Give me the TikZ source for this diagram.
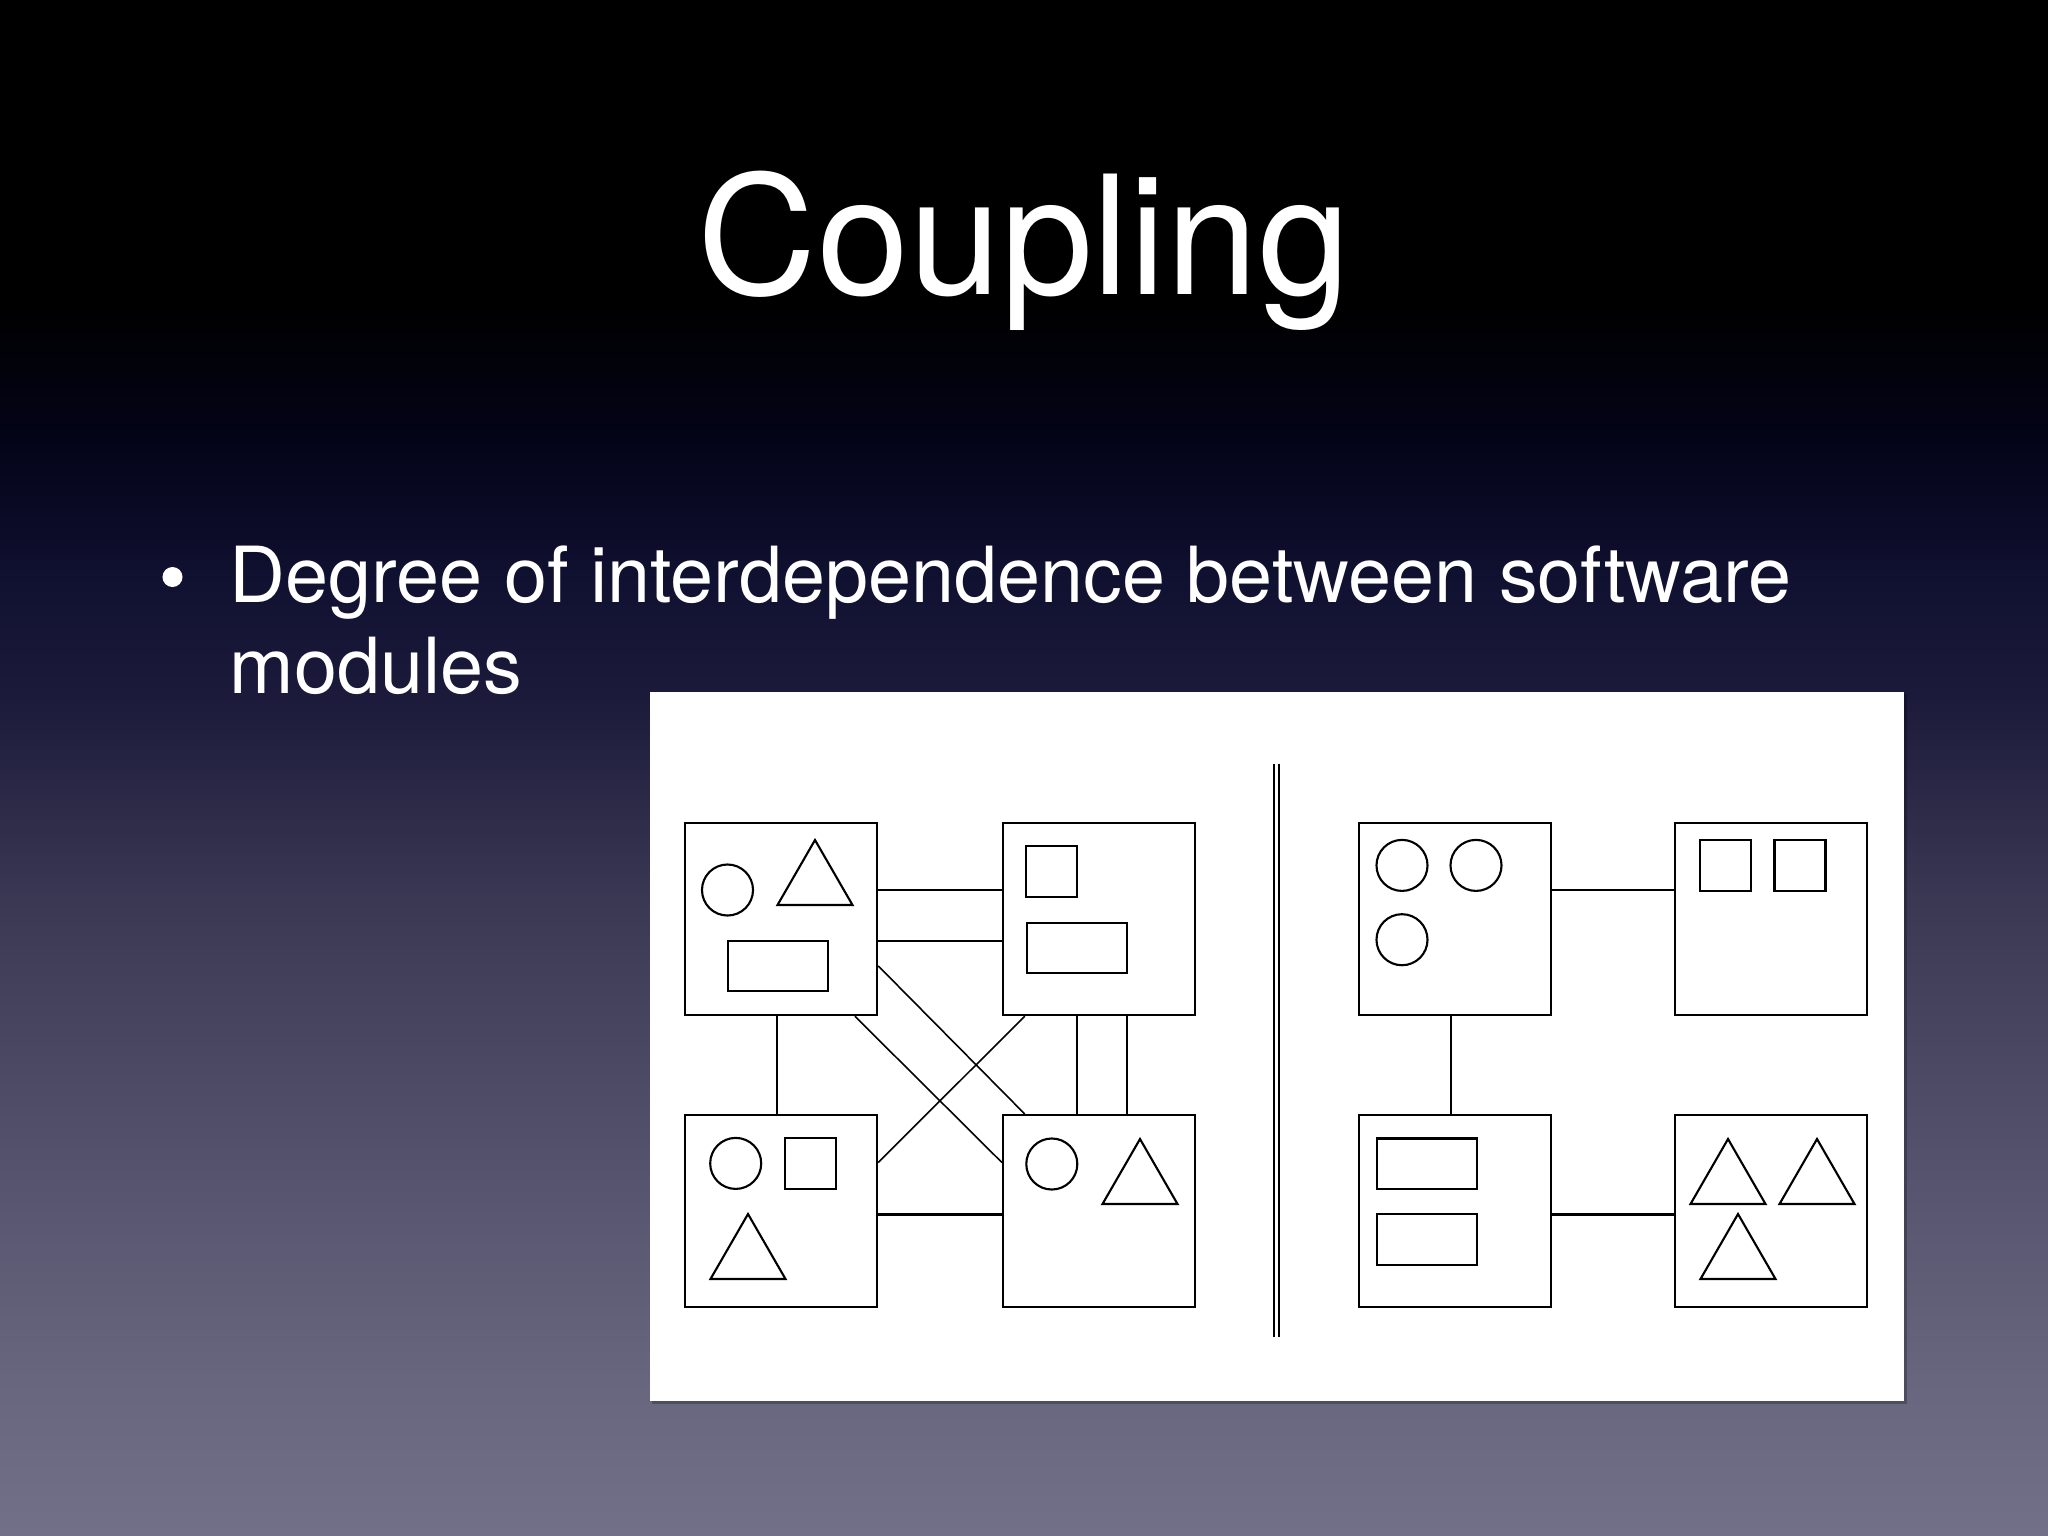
\documentclass[tikz,border=0pt]{standalone}
\usepackage{fontspec}
\setmainfont{TeX Gyre Heros}
\usepackage{xcolor}
\usetikzlibrary{positioning,calc}

\definecolor{bgA}{HTML}{727089}
\definecolor{bgB}{HTML}{68667E}
\definecolor{bgC}{HTML}{4F4C68}
\definecolor{bgD}{HTML}{3A3853}
\definecolor{bgE}{HTML}{1B1A3A}
\definecolor{bgF}{HTML}{101030}
\definecolor{bgG}{HTML}{04041A}
\pgfdeclareverticalshading{slidebg}{100bp}{color(0bp)=(bgA); color(25bp)=(bgA); color(30.1bp)=(bgB); color(39.2bp)=(bgC); color(45.7bp)=(bgD); color(52.4bp)=(bgE); color(56.3bp)=(bgF); color(60.4bp)=(bgG); color(65.2bp)=(black); color(100bp)=(black)}

\begin{document}
\begin{tikzpicture}[x=0.01cm, y=-0.01cm]
    % Styles
    \tikzstyle{module} = [rectangle, draw, line width=0.65pt, minimum size=1.92cm, inner sep=0pt]
    \tikzstyle{ring} = [circle, draw, line width=0.6pt, minimum size=0.51cm, inner sep=0pt]
    \tikzstyle{sq} = [rectangle, draw, line width=0.6pt, minimum size=0.51cm, inner sep=0pt]
    \tikzstyle{bar} = [rectangle, draw, line width=0.6pt, minimum width=1.0cm, minimum height=0.505cm, inner sep=0pt]
    \tikzstyle{tri} = [line width=0.6pt]
    \tikzstyle{link} = [line width=0.6pt]
    \tikzstyle{cross} = [line width=0.45pt]
    \tikzstyle{slidetext} = [text=white, inner sep=0pt]

    % Background
    \useasboundingbox (0,0) rectangle (2048,1536);
    \shade[shading=slidebg] (0,0) rectangle (2048,1536);

    % Title and bullet
    \node [slidetext, anchor=base, font=\fontsize{47}{56}\selectfont] (title) at (1024,294) {Coupling};
    \node [slidetext, anchor=base west, font=\fontsize{22}{26}\selectfont] (line1) at (229,602) {Degree of interdependence between software};
    \node [slidetext, anchor=base west, font=\fontsize{22}{26}\selectfont] (line2) at ($(line1.base west)+(0,91)$) {modules};
    \node [circle, fill=white, minimum size=0.2cm, inner sep=0pt] (dot) at (172.5,577) {};

    % Panel
    \fill[black, opacity=0.25] (652,694) rectangle (1907,1404);
    \fill[white] (650,692) rectangle (1904,1401);
    \draw[line width=0.6pt] (1274,763.5) -- (1274,1336.5);
    \draw[line width=0.6pt] (1279,763.5) -- (1279,1336.5);

    % Nodes - tightly coupled side
    \node [module] (a) at (781,919) {};
    \node [module, right=1.237cm of a] (b) {};
    \node [module, below=0.977cm of a] (c) {};
    \node [module, right=1.237cm of c] (d) {};

    \node [ring] (a1) at (727.5,890) {};
    \draw[tri] (815,840) -- (852.5,905) -- (777.5,905) -- cycle;
    \node [bar] (a2) at (778.2,966) {};
    \node [sq] (b1) at (1051.8,871.9) {};
    \node [bar] (b2) at (1076.7,948) {};
    \node [ring] (c1) at (735.7,1163.4) {};
    \node [sq] (c2) at (810.2,1163.5) {};
    \draw[tri] (748,1214) -- (785.5,1279) -- (710.5,1279) -- cycle;
    \node [ring] (d1) at (1051.8,1164) {};
    \draw[tri] (1140,1139) -- (1177.5,1204) -- (1102.5,1204) -- cycle;

    \draw[link] ($(a.north east)!0.352!(a.south east)$) -- ($(b.north west)!0.352!(b.south west)$);
    \draw[link] ($(a.north east)!0.615!(a.south east)$) -- ($(b.north west)!0.615!(b.south west)$);
    \draw[link] ($(a.south west)!0.479!(a.south east)$) -- ($(c.north west)!0.479!(c.north east)$);
    \draw[link] ($(b.south west)!0.387!(b.south east)$) -- ($(d.north west)!0.387!(d.north east)$);
    \draw[link] ($(b.south west)!0.644!(b.south east)$) -- ($(d.north west)!0.644!(d.north east)$);
    \draw[link] ($(c.north east)!0.517!(c.south east)$) -- ($(d.north west)!0.517!(d.south west)$);
    \draw[cross] ($(a.north east)!0.741!(a.south east)$) -- ($(d.north west)!0.117!(d.north east)$);
    \draw[cross] ($(a.south west)!0.88!(a.south east)$) -- ($(d.north west)!0.25!(d.south west)$);
    \draw[cross] ($(b.south west)!0.117!(b.south east)$) -- ($(c.north east)!0.25!(c.south east)$);

    % Nodes - loosely coupled side
    \node [module] (e) at (1455,919) {};
    \node [module, right=1.217cm of e] (f) {};
    \node [module, below=0.977cm of e] (g) {};
    \node [module, right=1.217cm of g] (h) {};

    \node [ring] (e1) at (1402,865.4) {};
    \node [ring] (e2) at (1476,865.4) {};
    \node [ring] (e3) at (1402,939.7) {};
    \node [sq] (f1) at (1725.7,865.4) {};
    \node [sq] (f2) at (1800,865.4) {};
    \node [bar] (g1) at (1427.1,1163.8) {};
    \node [bar] (g2) at (1427.1,1239.4) {};
    \draw[tri] (1728,1139) -- (1765.5,1204) -- (1690.5,1204) -- cycle;
    \draw[tri] (1817,1139) -- (1854.5,1204) -- (1779.5,1204) -- cycle;
    \draw[tri] (1738,1214) -- (1775.5,1279) -- (1700.5,1279) -- cycle;

    \draw[link] ($(e.north east)!0.352!(e.south east)$) -- ($(f.north west)!0.352!(f.south west)$);
    \draw[link] ($(e.south west)!0.479!(e.south east)$) -- ($(g.north west)!0.479!(g.north east)$);
    \draw[link] ($(g.north east)!0.517!(g.south east)$) -- ($(h.north west)!0.517!(h.south west)$);
\end{tikzpicture}
\end{document}
